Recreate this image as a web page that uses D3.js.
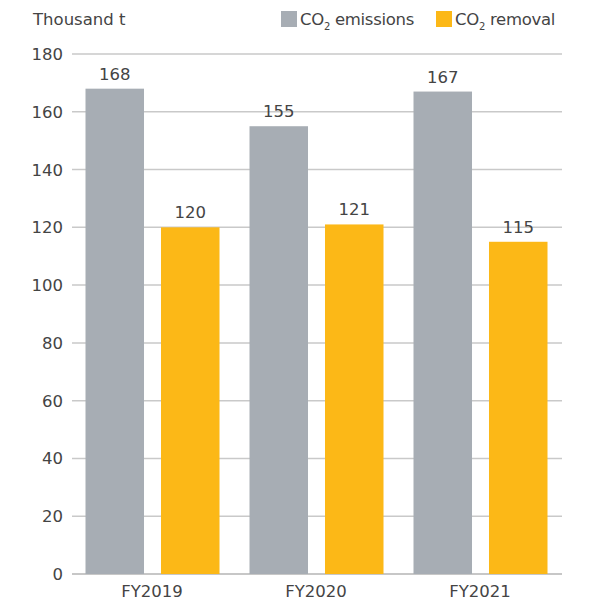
<!DOCTYPE html>
<html>
<head>
<meta charset="utf-8">
<script src="https://cdn.jsdelivr.net/npm/d3@7"></script>
<style>
  body { margin: 0; background: #fff; }
  text { font-family: "DejaVu Sans", Arial, sans-serif; fill: #444; }
</style>
</head>
<body>
<div id="chart"></div>
<script>
const w = 592;
const h = 601;

// data
const years = ["FY2019", "FY2020", "FY2021"];
const series = ["emissions", "removal"];
const seriesLabels = ["emissions", "removal"];
const emissions = [168, 155, 167];
const removal = [120, 121, 115];
const yTicks = [0, 20, 40, 60, 80, 100, 120, 140, 160, 180];
const colors = ["#a7adb4", "#fcb817"];

const rows = years.map(function(y, i) {
    return {year: y, values: [emissions[i], removal[i]]};
});

const margin = {top: 54, right: 30, bottom: 27, left: 70};
const fs = "16.5px";

const svg = d3.select("div#chart").append("svg")
    .attr("width", w)
    .attr("height", h);

const x0 = d3.scaleBand().domain(years).range([margin.left, w - margin.right]);
const x1 = d3.scaleBand().domain(series).range([15.5, 149.5]).paddingInner(0.225);
const y = d3.scaleLinear().domain([0, 180]).range([h - margin.bottom, margin.top]);

// gridlines
svg.selectAll("line.grid")
    .data(yTicks)
    .enter()
    .append("line")
    .attr("class", "grid")
    .attr("x1", margin.left + 2)
    .attr("x2", w - margin.right)
    .attr("y1", function(d) {return y(d);})
    .attr("y2", function(d) {return y(d);})
    .attr("stroke", function(d) {return d === 0 ? "#b4b4b4" : "#c9c9c9";})
    .attr("stroke-width", 1.5);

// y labels
svg.selectAll("text.ytick")
    .data(yTicks)
    .enter()
    .append("text")
    .attr("class", "ytick")
    .attr("x", margin.left - 7)
    .attr("y", function(d) {return y(d) + 6;})
    .attr("text-anchor", "end")
    .style("font-size", fs)
    .text(function(d) {return d;});

// bars
const groups = svg.selectAll("g.year")
    .data(rows)
    .enter()
    .append("g")
    .attr("class", "year")
    .attr("transform", function(d) {return "translate(" + x0(d.year) + ",0)";});

groups.selectAll("rect")
    .data(function(d) {return d.values.map(function(v, i) {return {key: series[i], value: v, i: i};});})
    .enter()
    .append("rect")
    .attr("x", function(d) {return x1(d.key);})
    .attr("width", x1.bandwidth())
    .attr("y", function(d) {return y(d.value);})
    .attr("height", function(d) {return y(0) - y(d.value);})
    .attr("fill", function(d) {return colors[d.i];});

groups.selectAll("text.val")
    .data(function(d) {return d.values.map(function(v, i) {return {key: series[i], value: v};});})
    .enter()
    .append("text")
    .attr("class", "val")
    .attr("x", function(d) {return x1(d.key) + x1.bandwidth() / 2;})
    .attr("y", function(d) {return y(d.value) - 9;})
    .attr("text-anchor", "middle")
    .style("font-size", fs)
    .text(function(d) {return d.value;});

// x labels
svg.selectAll("text.xlab")
    .data(years)
    .enter()
    .append("text")
    .attr("class", "xlab")
    .attr("x", function(d) {return x0(d) + x0.bandwidth() / 2;})
    .attr("y", h - margin.bottom + 23)
    .attr("text-anchor", "middle")
    .style("font-size", fs)
    .text(function(d) {return d;});

// unit
svg.append("text")
    .attr("x", 33)
    .attr("y", 25)
    .style("font-size", fs)
    .text("Thousand t");

// legend
const legendX = [281, 436];
const legend = svg.selectAll("g.legend")
    .data(seriesLabels)
    .enter()
    .append("g")
    .attr("class", "legend")
    .attr("transform", function(d, i) {return "translate(" + legendX[i] + ",0)";});

legend.append("rect")
    .attr("x", 0)
    .attr("y", 11)
    .attr("width", 16)
    .attr("height", 16)
    .attr("fill", function(d, i) {return colors[i];});

const lt = legend.append("text")
    .attr("x", 19)
    .attr("y", 25)
    .style("font-size", fs)
    .style("letter-spacing", "-0.3px");
lt.append("tspan").text("CO");
lt.append("tspan").attr("dy", 5).style("font-size", "10px").text("2");
lt.append("tspan").attr("dy", -5).text(function(d) {return " " + d;});
</script>
</body>
</html>
